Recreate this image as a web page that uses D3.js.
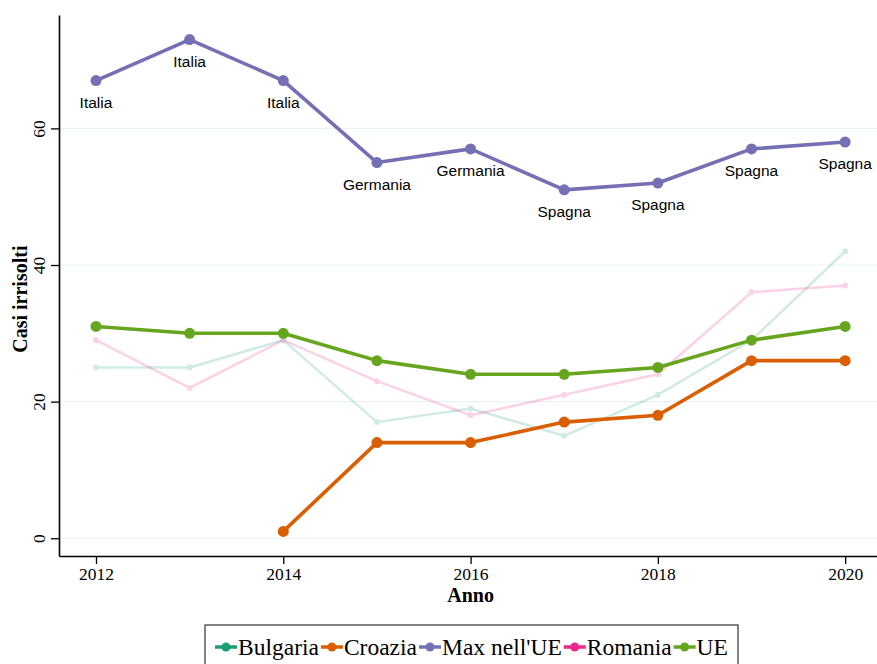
<!DOCTYPE html>
<html>
<head>
<meta charset="utf-8">
<script src="https://cdn.jsdelivr.net/npm/d3@7"></script>
<style>
  body { margin: 0; background: #fff; }
  svg { display: block; }
</style>
</head>
<body>
<div id="chart"></div>
<script>
// data
let years = [2012, 2013, 2014, 2015, 2016, 2017, 2018, 2019, 2020];
let bulgaria = [25, 25, 29, 17, 19, 15, 21, 29, 42];
let croazia = [null, null, 1, 14, 14, 17, 18, 26, 26];
let maxUE = [67, 73, 67, 55, 57, 51, 52, 57, 58];
let maxLabels = ["Italia", "Italia", "Italia", "Germania", "Germania", "Spagna", "Spagna", "Spagna", "Spagna"];
let romania = [29, 22, 29, 23, 18, 21, 24, 36, 37];
let ue = [31, 30, 30, 26, 24, 24, 25, 29, 31];
let yTicks = [0, 20, 40, 60];
let xTicks = [2012, 2014, 2016, 2018, 2020];

let svgWidth = 877;
let svgHeight = 664;

let margin = { top: 15, left: 59, bottom: 108, right: 0 };
let width = svgWidth - margin.left - margin.right;
let height = svgHeight - margin.top - margin.bottom;

let svg = d3.select("#chart")
    .append("svg")
    .attr("width", svgWidth)
    .attr("height", svgHeight);

let chartGroup = svg.append("g")
    .attr("transform", `translate(${margin.left}, ${margin.top})`);

let x = d3.scaleLinear()
    .domain([2011.605, 2020.34])
    .range([0, width]);

let y = d3.scaleLinear()
    .domain([-2.6, 76.6])
    .range([height, 0]);

// gridlines
chartGroup.selectAll(".grid")
    .data(yTicks)
    .enter()
    .append("line")
    .attr("x1", 0)
    .attr("x2", width)
    .attr("y1", d => y(d))
    .attr("y2", d => y(d))
    .attr("stroke", "#eaf2f3")
    .attr("stroke-width", 1.2);

// series, in legend order
let series = [
    { name: "Bulgaria", values: bulgaria, color: "#1b9e77", faint: true },
    { name: "Croazia", values: croazia, color: "#d95f02", faint: false },
    { name: "Max nell'UE", values: maxUE, color: "#7570b3", faint: false },
    { name: "Romania", values: romania, color: "#e7298a", faint: true },
    { name: "UE", values: ue, color: "#66a61e", faint: false }
];

let line = d3.line()
    .defined(d => d.v != null)
    .x(d => x(d.year))
    .y(d => y(d.v));

// faint ones go under the bold ones
let drawOrder = series.filter(s => s.faint).concat(series.filter(s => !s.faint));

drawOrder.forEach(function (s) {
    let pts = years.map((yr, i) => ({ year: yr, v: s.values[i] }));
    let g = chartGroup.append("g")
        .attr("opacity", s.faint ? 0.2 : 1);
    g.append("path")
        .datum(pts)
        .attr("d", line)
        .attr("fill", "none")
        .attr("stroke", s.color)
        .attr("stroke-width", s.faint ? 2.5 : 3.6)
        .attr("stroke-linejoin", "round");
    g.selectAll("circle")
        .data(pts.filter(d => d.v != null))
        .enter()
        .append("circle")
        .attr("cx", d => x(d.year))
        .attr("cy", d => y(d.v))
        .attr("r", s.faint ? 3 : 5.5)
        .attr("fill", s.color);
});

// country labels under the max points
chartGroup.selectAll(".maxlab")
    .data(years)
    .enter()
    .append("text")
    .attr("x", d => x(d))
    .attr("y", (d, i) => y(maxUE[i]) + 27)
    .attr("text-anchor", "middle")
    .attr("font-family", "Liberation Sans, Arial, sans-serif")
    .attr("font-size", 15.5)
    .attr("fill", "#000")
    .text((d, i) => maxLabels[i]);

// axes
let xAxis = d3.axisBottom(x).tickValues(xTicks).tickFormat(d3.format("d")).tickSize(8).tickSizeOuter(0);
let yAxis = d3.axisLeft(y).tickValues(yTicks).tickSize(8).tickSizeOuter(0);

let gx = chartGroup.append("g")
    .attr("transform", `translate(0, ${height})`)
    .call(xAxis);
gx.select(".domain").attr("stroke-width", 1.6);
gx.selectAll(".tick line").attr("stroke-width", 1.3);
gx.selectAll("text")
    .attr("font-family", "Liberation Serif, Times New Roman, serif")
    .attr("font-size", 17.5)
    .attr("fill", "#000")
    .attr("y", 11)
    .attr("dy", "0.75em");

let gy = chartGroup.append("g")
    .call(yAxis);
gy.select(".domain").attr("stroke-width", 1.6);
gy.selectAll(".tick line").attr("stroke-width", 1.3);
gy.selectAll("text")
    .attr("font-family", "Liberation Serif, Times New Roman, serif")
    .attr("font-size", 17.5)
    .attr("fill", "#000")
    .attr("text-anchor", "middle")
    .attr("transform", "rotate(-90)")
    .attr("x", 0)
    .attr("y", -14)
    .attr("dy", "0");

// axis titles
svg.append("text")
    .attr("x", margin.left + x(2016))
    .attr("y", 602)
    .attr("text-anchor", "middle")
    .attr("font-family", "Liberation Serif, Times New Roman, serif")
    .attr("font-weight", "bold")
    .attr("font-size", 20)
    .text("Anno");

svg.append("text")
    .attr("transform", `translate(27, ${margin.top + y(35)}) rotate(-90)`)
    .attr("text-anchor", "middle")
    .attr("font-family", "Liberation Serif, Times New Roman, serif")
    .attr("font-weight", "bold")
    .attr("font-size", 20)
    .text("Casi irrisolti");

// legend
let legend = svg.append("g").attr("transform", "translate(205, 625)");
legend.append("rect")
    .attr("width", 533)
    .attr("height", 42)
    .attr("fill", "#fff")
    .attr("stroke", "#333")
    .attr("stroke-width", 1.2);

let lx = 10;
series.forEach(function (s) {
    let item = legend.append("g").attr("transform", `translate(${lx}, 22)`);
    item.append("line")
        .attr("x1", 0).attr("x2", 22)
        .attr("stroke", s.color).attr("stroke-width", 3.5);
    item.append("circle")
        .attr("cx", 11).attr("r", 4.5).attr("fill", s.color);
    let t = item.append("text")
        .attr("x", 23)
        .attr("y", 8)
        .attr("font-family", "Liberation Serif, Times New Roman, serif")
        .attr("font-size", 23.5)
        .text(s.name);
    lx += 23 + t.node().getComputedTextLength() + 2;
});
</script>
</body>
</html>
